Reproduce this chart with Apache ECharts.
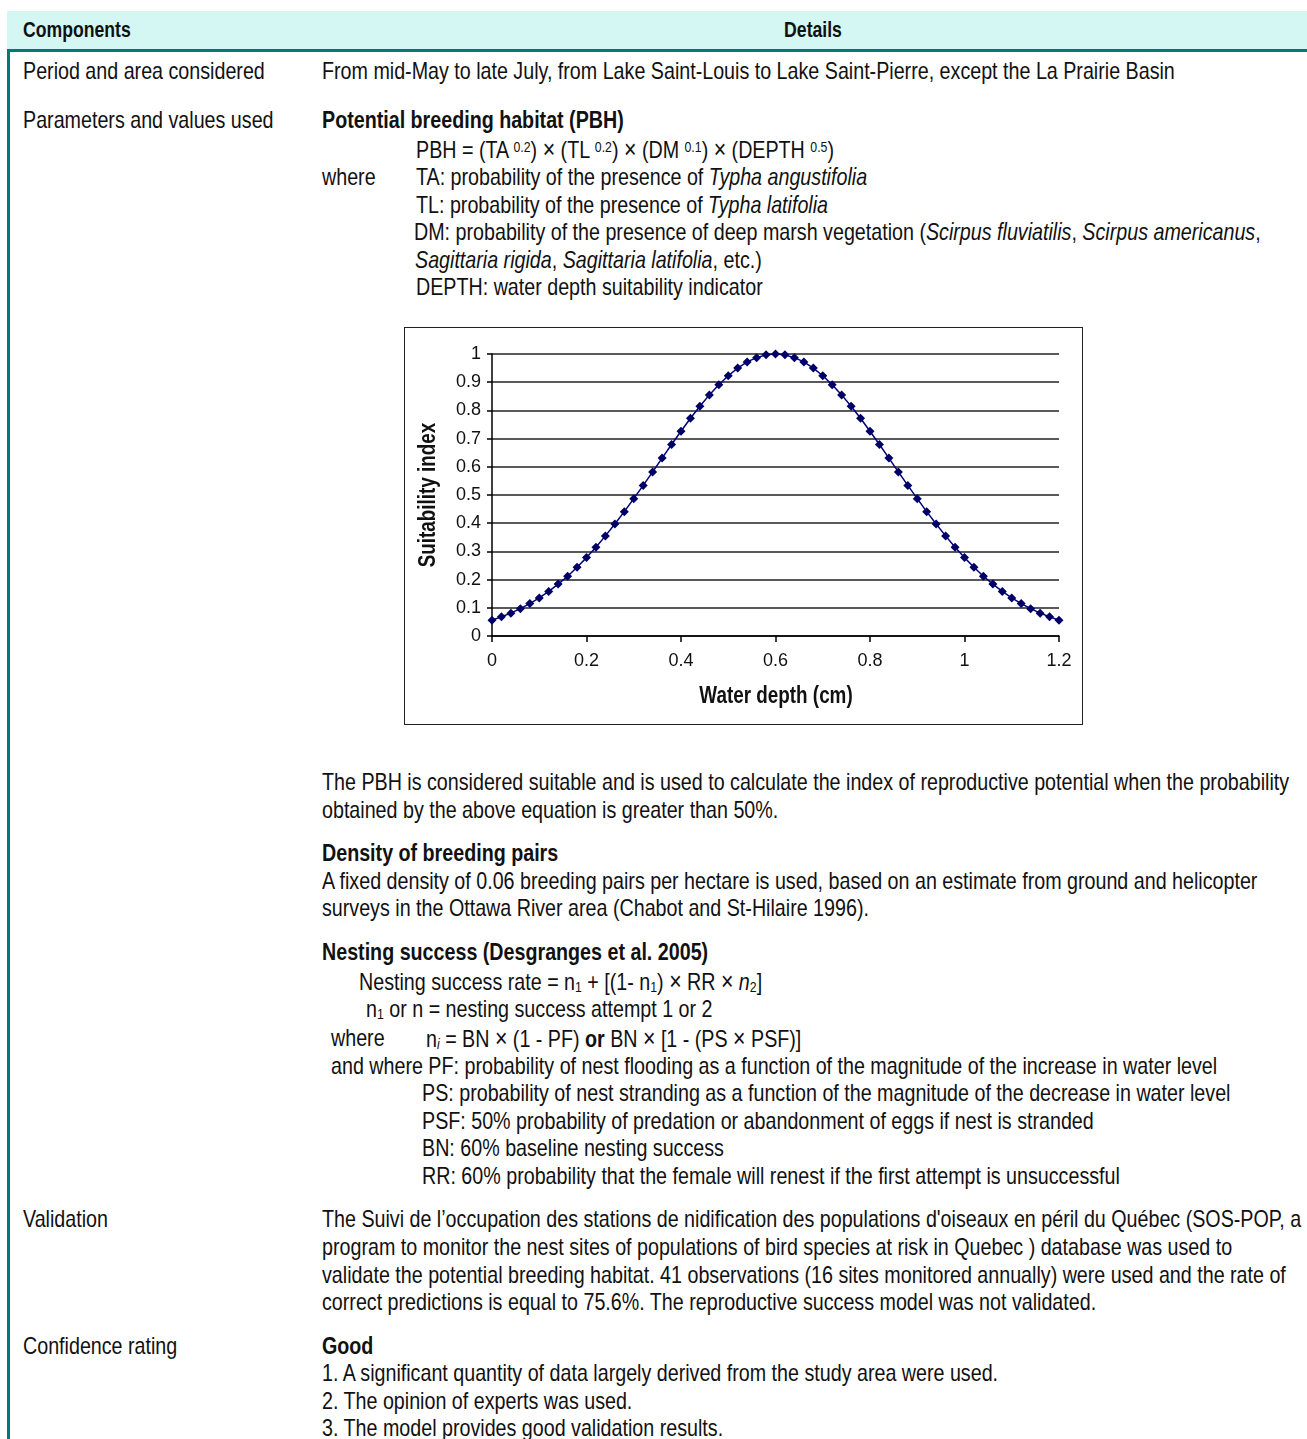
<!DOCTYPE html>
<html>
<head>
<meta charset="utf-8">
<script src="https://cdn.jsdelivr.net/npm/echarts@6/dist/echarts.min.js"></script>
<style>
  html, body { margin: 0; padding: 0; background: #fff; }
  body { width: 1307px; height: 1439px; position: relative; overflow: hidden;
         font-family: "Liberation Sans", Arial, sans-serif; font-size: 24px; color: #111; }
  .t { position: absolute; white-space: nowrap; line-height: 28px; height: 28px;
       transform: scaleX(0.82); transform-origin: 0 0; }
  .h { font-size: 21.5px; font-weight: bold; }
  .c { transform: scaleX(0.82) translateX(-50%); }
  .b { font-weight: bold; }
  sup, sub { font-size: 15px; line-height: 0; }
  sup { vertical-align: 6px; }
  sub { vertical-align: -2px; }
  .x { font-size: 26px; }
  #head { position: absolute; left: 7px; top: 11px; width: 1300px; height: 38px; background: #d4f7f4; }
  #headline { position: absolute; left: 7px; top: 49px; width: 1300px; height: 3px; background: #007a73; }
  #leftline { position: absolute; left: 7px; top: 49px; width: 3px; height: 1390px; background: #007a73; }
  #chartbox { position: absolute; left: 404px; top: 327px; width: 677px; height: 396px; border: 1px solid #222; }
  #chart { width: 677px; height: 396px; }
</style>
</head>
<body>
<div id="head"></div>
<div id="headline"></div>
<div id="leftline"></div>

<div class="t h" style="left:23px;top:16px;">Components</div>
<div class="t h c" style="left:813px;top:16px;">Details</div>

<div class="t" style="left:23px;top:57px;">Period and area considered</div>
<div class="t" style="left:322px;top:57px;">From mid-May to late July, from Lake Saint-Louis to Lake Saint-Pierre, except the La Prairie Basin</div>

<div class="t" style="left:23px;top:106px;">Parameters and values used</div>
<div class="t b" style="left:322px;top:106px;">Potential breeding habitat (PBH)</div>
<div class="t" style="left:416px;top:135px;">PBH = (TA <sup>0.2</sup>) <span class="x">×</span> (TL <sup>0.2</sup>) <span class="x">×</span> (DM <sup>0.1</sup>) <span class="x">×</span> (DEPTH <sup>0.5</sup>)</div>
<div class="t" style="left:322px;top:163px;">where</div>
<div class="t" style="left:416px;top:163px;">TA: probability of the presence of <i>Typha angustifolia</i></div>
<div class="t" style="left:416px;top:191px;">TL: probability of the presence of <i>Typha latifolia</i></div>
<div class="t" style="left:414px;top:218px;">DM: probability of the presence of deep marsh vegetation (<i>Scirpus fluviatilis</i>, <i>Scirpus americanus</i>,</div>
<div class="t" style="left:415px;top:246px;"><i>Sagittaria rigida</i>, <i>Sagittaria latifolia</i>, etc.)</div>
<div class="t" style="left:416px;top:273px;">DEPTH: water depth suitability indicator</div>

<div id="chartbox"><div id="chart"></div></div>

<div class="t" style="left:322px;top:768px;">The PBH is considered suitable and is used to calculate the index of reproductive potential when the probability</div>
<div class="t" style="left:322px;top:796px;">obtained by the above equation is greater than 50%.</div>

<div class="t b" style="left:322px;top:839px;">Density of breeding pairs</div>
<div class="t" style="left:322px;top:867px;">A fixed density of 0.06 breeding pairs per hectare is used, based on an estimate from ground and helicopter</div>
<div class="t" style="left:322px;top:894px;">surveys in the Ottawa River area (Chabot and St-Hilaire 1996).</div>

<div class="t b" style="left:322px;top:938px;">Nesting success (Desgranges et al. 2005)</div>
<div class="t" style="left:359px;top:967px;">Nesting success rate = n<sub>1</sub> + [(1- n<sub>1</sub>) <span class="x">×</span> RR <span class="x">×</span> <i>n</i><sub>2</sub>]</div>
<div class="t" style="left:366px;top:995px;">n<sub>1</sub> or n = nesting success attempt 1 or 2</div>
<div class="t" style="left:331px;top:1024px;">where</div>
<div class="t" style="left:426px;top:1024px;">n<sub><i>i</i></sub> = BN <span class="x">×</span> (1 - PF) <b>or</b> BN <span class="x">×</span> [1 - (PS <span class="x">×</span> PSF)]</div>
<div class="t" style="left:331px;top:1052px;">and where PF: probability of nest flooding as a function of the magnitude of the increase in water level</div>
<div class="t" style="left:422px;top:1079px;">PS: probability of nest stranding as a function of the magnitude of the decrease in water level</div>
<div class="t" style="left:422px;top:1107px;">PSF: 50% probability of predation or abandonment of eggs if nest is stranded</div>
<div class="t" style="left:422px;top:1134px;">BN: 60% baseline nesting success</div>
<div class="t" style="left:422px;top:1162px;">RR: 60% probability that the female will renest if the first attempt is unsuccessful</div>

<div class="t" style="left:23px;top:1205px;">Validation</div>
<div class="t" style="left:322px;top:1205px;">The Suivi de l’occupation des stations de nidification des populations d'oiseaux en péril du Québec (SOS-POP, a</div>
<div class="t" style="left:322px;top:1233px;">program to monitor the nest sites of populations of bird species at risk in Quebec ) database was used to</div>
<div class="t" style="left:322px;top:1261px;">validate the potential breeding habitat. 41 observations (16 sites monitored annually) were used and the rate of</div>
<div class="t" style="left:322px;top:1288px;">correct predictions is equal to 75.6%. The reproductive success model was not validated.</div>

<div class="t" style="left:23px;top:1332px;">Confidence rating</div>
<div class="t b" style="left:322px;top:1332px;">Good</div>
<div class="t" style="left:322px;top:1359px;">1. A significant quantity of data largely derived from the study area were used.</div>
<div class="t" style="left:322px;top:1387px;">2. The opinion of experts was used.</div>
<div class="t" style="left:322px;top:1414px;">3. The model provides good validation results.</div>

<script>
// Water depth (x) and suitability index (y)
const waterDepth = [0, 0.02, 0.04, 0.06, 0.08, 0.10, 0.12, 0.14, 0.16, 0.18,
  0.20, 0.22, 0.24, 0.26, 0.28, 0.30, 0.32, 0.34, 0.36, 0.38,
  0.40, 0.42, 0.44, 0.46, 0.48, 0.50, 0.52, 0.54, 0.56, 0.58,
  0.60, 0.62, 0.64, 0.66, 0.68, 0.70, 0.72, 0.74, 0.76, 0.78,
  0.80, 0.82, 0.84, 0.86, 0.88, 0.90, 0.92, 0.94, 0.96, 0.98,
  1.00, 1.02, 1.04, 1.06, 1.08, 1.10, 1.12, 1.14, 1.16, 1.18, 1.20];
const suitability = [0.056, 0.068, 0.081, 0.097, 0.115, 0.135, 0.158, 0.184, 0.212, 0.244,
  0.278, 0.315, 0.355, 0.397, 0.441, 0.487, 0.534, 0.582, 0.631, 0.679,
  0.726, 0.772, 0.815, 0.855, 0.891, 0.923, 0.950, 0.972, 0.987, 0.997,
  1.000, 0.997, 0.987, 0.972, 0.950, 0.923, 0.891, 0.855, 0.815, 0.772,
  0.726, 0.679, 0.631, 0.582, 0.534, 0.487, 0.441, 0.397, 0.355, 0.315,
  0.278, 0.244, 0.212, 0.184, 0.158, 0.135, 0.115, 0.097, 0.081, 0.068, 0.056];
const xTicks = ['0', '0.2', '0.4', '0.6', '0.8', '1', '1.2'];
const yTicks = ['0', '0.1', '0.2', '0.3', '0.4', '0.5', '0.6', '0.7', '0.8', '0.9', '1'];
const xTitle = 'Water depth (cm)';
const yTitle = 'Suitability index';

const FONT = '"Liberation Sans", Arial, sans-serif';
const chart = echarts.init(document.getElementById('chart'), null, { renderer: 'canvas' });
chart.setOption({
  animation: false,
  backgroundColor: '#fff',
  grid: { left: 87, top: 26, right: 23, bottom: 88 },
  xAxis: {
    type: 'value', min: 0, max: 1.2, interval: 0.2,
    axisLine: { lineStyle: { color: '#000', width: 1.5 } },
    axisTick: { show: true, length: 6, lineStyle: { color: '#000', width: 1.5 } },
    axisLabel: { fontFamily: FONT, fontSize: 18, color: '#111', margin: 16,
      formatter: (v) => xTicks[Math.round(v / 0.2)] },
    splitLine: { show: false }
  },
  yAxis: {
    type: 'value', min: 0, max: 1, interval: 0.1,
    axisLine: { show: true, lineStyle: { color: '#000', width: 1.5 } },
    axisTick: { show: true, length: 5, lineStyle: { color: '#000', width: 1.5 } },
    axisLabel: { fontFamily: FONT, fontSize: 18, color: '#111', margin: 11,
      formatter: (v) => yTicks[Math.round(v * 10)] },
    splitLine: { show: true, lineStyle: { color: '#222', width: 1.5 } }
  },
  graphic: [
    { type: 'text', x: 371, y: 369, scaleX: 0.82,
      style: { text: xTitle, font: 'bold 23px ' + FONT, fill: '#111', align: 'center', verticalAlign: 'middle' } },
    { type: 'text', x: 24, y: 167, rotation: Math.PI / 2, scaleX: 0.82,
      style: { text: yTitle, font: 'bold 23px ' + FONT, fill: '#111', align: 'center', verticalAlign: 'middle' } }
  ],
  series: [{
    type: 'line',
    data: waterDepth.map((x, i) => [x, suitability[i]]),
    symbol: 'diamond', symbolSize: 9,
    lineStyle: { color: '#000080', width: 1.5 },
    itemStyle: { color: '#000066' },
    clip: false
  }]
});
</script>
</body>
</html>
